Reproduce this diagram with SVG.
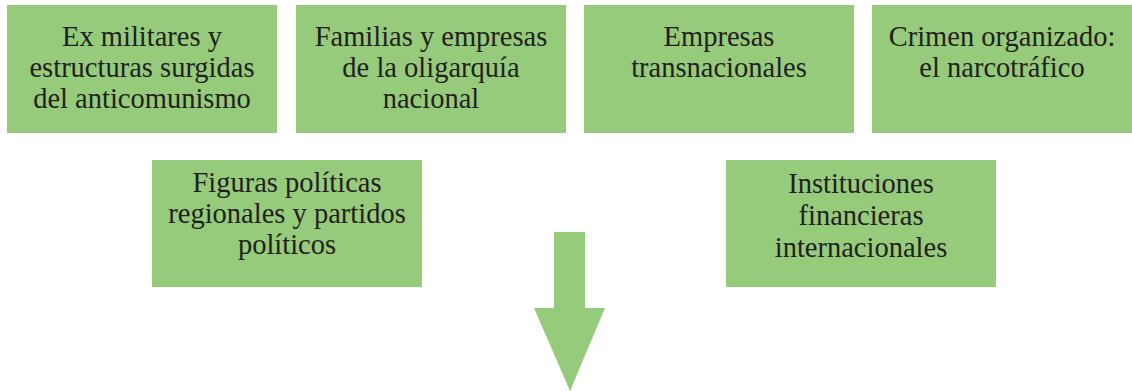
<svg xmlns="http://www.w3.org/2000/svg" width="1132" height="391" viewBox="0 0 1132 391">
<style>
.box{fill:#95cb7a}
.t{font-family:"Liberation Serif","Times New Roman",serif;font-size:28.5px;fill:#231f20;text-anchor:middle}
</style>
<rect width="1132" height="391" fill="#ffffff"/>
<g id="n1"><rect class="box" x="7" y="5" width="270" height="128"/>
<text class="t"><tspan x="142" y="46">Ex militares y</tspan><tspan x="142" y="77">estructuras surgidas</tspan><tspan x="142" y="108">del anticomunismo</tspan></text></g>
<g id="n2"><rect class="box" x="296" y="5" width="270" height="128"/>
<text class="t"><tspan x="431" y="46">Familias y empresas</tspan><tspan x="431" y="77">de la oligarquía</tspan><tspan x="431" y="108">nacional</tspan></text></g>
<g id="n3"><rect class="box" x="584" y="5" width="270" height="128"/>
<text class="t"><tspan x="719" y="46">Empresas</tspan><tspan x="719" y="77">transnacionales</tspan></text></g>
<g id="n4"><rect class="box" x="872" y="5" width="270" height="128"/>
<text class="t"><tspan x="1002" y="46">Crimen organizado:</tspan><tspan x="1002" y="77">el narcotráfico</tspan></text></g>
<g id="n5"><rect class="box" x="152" y="160" width="270" height="127"/>
<text class="t"><tspan x="287" y="192">Figuras políticas</tspan><tspan x="287" y="223">regionales y partidos</tspan><tspan x="287" y="254">políticos</tspan></text></g>
<g id="n6"><rect class="box" x="726" y="160" width="270" height="127"/>
<text class="t"><tspan x="861" y="193">Instituciones</tspan><tspan x="861" y="225">financieras</tspan><tspan x="861" y="257">internacionales</tspan></text></g>
<g id="connectors"><polygon class="box" points="554,232 585,232 585,308 605,308 570,391 534,308 554,308"/></g>
</svg>
